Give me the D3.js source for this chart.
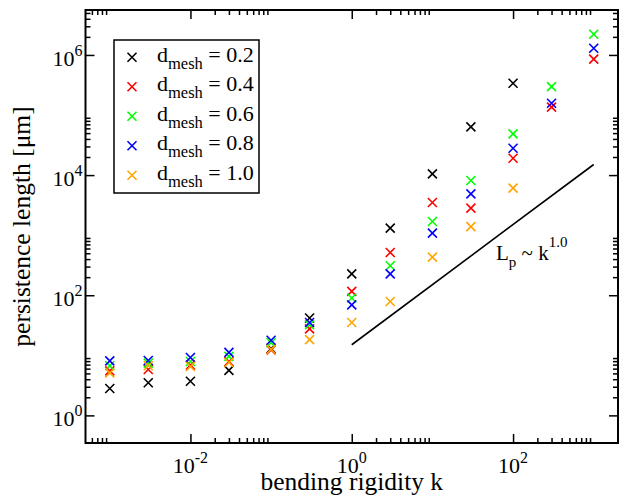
<!DOCTYPE html>
<html>
<head>
<meta charset="utf-8">
<script src="https://cdn.jsdelivr.net/npm/d3@7"></script>
<style>
  body { margin: 0; background: #fff; }
  svg { display: block; font-family: "Liberation Serif", "DejaVu Serif", serif; }
</style>
</head>
<body>
<div id="chart"></div>
<script>
// bending rigidity values (x)
var kValues = [1e-3, 3e-3, 1e-2, 3e-2, 1e-1, 3e-1, 1, 3, 10, 30, 100, 300, 1000];

// persistence length for each mesh size (null = no point)
var lpMesh02 = [2.8, 3.5, 3.7, 5.6, 13, 41.7, 227, 1310, 10500, 63400, 338000, null, null];
var lpMesh04 = [5.5, 5.8, 6.9, 7.9, 12.3, 27.6, 116, 514, 3490, 2820, 19100, 135000, 850000];
var lpMesh06 = [6.7, 7.4, 7.9, 9.6, 16.2, 32.2, 90, 309, 1690, 8110, 48500, 297000, 2210000];
var lpMesh08 = [8.1, 8.2, 9.2, 11.2, 17.8, 35.2, 69, 227, 1080, 4870, 28000, 157000, 1290000];
var lpMesh10 = [5.1, 6.7, 6.5, 7.6, 12.6, 18.2, 35.2, 78.7, 431, 1390, 6060, null, null];

var meshLabels = ["0.2", "0.4", "0.6", "0.8", "1.0"];
var meshColors = ["#000000", "#ff0000", "#00ff00", "#0000ff", "#ffa500"];

// guide line Lp ~ k^1.0
var guideK = [1, 1000];
var guideLp = [15, 15000];

var xMajor = [1e-2, 1e0, 1e2];
var yMajor = [1e0, 1e2, 1e4, 1e6];
var xLabels = ["-2", "0", "2"];
var yLabels = ["0", "2", "4", "6"];

var margin = {top: 10, right: 1, bottom: 52, left: 85.5},
    width = 619 - margin.left - margin.right,
    height = 495 - margin.top - margin.bottom;

var x = d3.scaleLog().domain([5e-4, 2e3]).range([0, width]);
var y = d3.scaleLog().domain([0.347, 5.6e6]).range([height, 0]);

// minor ticks: 2..9 x 10^even decades
function minors(lo, hi) {
  var out = [];
  for (var e = lo; e <= hi; e += 2)
    for (var m = 2; m <= 9; m++) out.push(m * Math.pow(10, e));
  return out;
}
var xMinor = minors(-4, 2).filter(function(v) { return v > 5e-4 && v < 2e3; });
var yMinor = minors(-2, 6).filter(function(v) { return v > 0.347 && v < 5.6e6; });

var svg = d3.select("#chart").append("svg")
    .attr("width", 619)
    .attr("height", 495);

var g = svg.append("g")
    .attr("transform", "translate(" + margin.left + "," + margin.top + ")");

// ticks (inward, mirrored on all sides)
function addAxis(axisFn, scale, vals, size, tr) {
  var a = g.append("g")
      .attr("transform", tr)
      .call(axisFn(scale).tickValues(vals).tickSize(size).tickFormat(""));
  a.select(".domain").remove();
  a.selectAll("line").attr("stroke", "#000").attr("stroke-width", 1.5);
}
addAxis(d3.axisBottom, x, xMajor, -9, "translate(0," + height + ")");
addAxis(d3.axisBottom, x, xMinor, -5, "translate(0," + height + ")");
addAxis(d3.axisTop, x, xMajor, -9, "translate(0,0)");
addAxis(d3.axisTop, x, xMinor, -5, "translate(0,0)");
addAxis(d3.axisLeft, y, yMajor, -9, "translate(0,0)");
addAxis(d3.axisLeft, y, yMinor, -5, "translate(0,0)");
addAxis(d3.axisRight, y, yMajor, -9, "translate(" + width + ",0)");
addAxis(d3.axisRight, y, yMinor, -5, "translate(" + width + ",0)");

// frame
g.append("rect")
    .attr("width", width)
    .attr("height", height)
    .attr("fill", "none")
    .attr("stroke", "#000")
    .attr("stroke-width", 2);

// tick labels
xMajor.forEach(function(v, i) {
  var t = g.append("text")
      .attr("x", x(v))
      .attr("y", height + 30)
      .attr("text-anchor", "middle")
      .attr("font-size", 22);
  t.append("tspan").text("10");
  t.append("tspan").attr("dy", -10).attr("font-size", 16).text(xLabels[i]);
});
yMajor.forEach(function(v, i) {
  var t = g.append("text")
      .attr("x", -3)
      .attr("y", y(v) + 11)
      .attr("text-anchor", "end")
      .attr("font-size", 22);
  t.append("tspan").text("10");
  t.append("tspan").attr("dy", -10).attr("font-size", 16).text(yLabels[i]);
});

// axis titles
svg.append("text")
    .attr("x", margin.left + width / 2)
    .attr("y", 490)
    .attr("text-anchor", "middle")
    .attr("font-size", 25.5)
    .text("bending rigidity k");

svg.append("text")
    .attr("transform", "translate(30," + (margin.top + height / 2) + ") rotate(-90)")
    .attr("text-anchor", "middle")
    .attr("font-size", 25.5)
    .text("persistence length [\u03bcm]");

// guide line
g.append("path")
    .datum(guideK.map(function(k, i) { return [k, guideLp[i]]; }))
    .attr("fill", "none")
    .attr("stroke", "#000")
    .attr("stroke-width", 1.6)
    .attr("d", d3.line().x(function(d) { return x(d[0]); }).y(function(d) { return y(d[1]); }));

var lbl = g.append("text")
    .attr("x", 496 - margin.left)
    .attr("y", 260 - margin.top)
    .attr("font-size", 21);
lbl.append("tspan").text("L");
lbl.append("tspan").attr("dy", 7).attr("font-size", 15).text("p");
lbl.append("tspan").attr("dy", -7).text(" ~ k");
lbl.append("tspan").attr("dy", -13).attr("font-size", 15).text("1.0");

// markers
var cross = "M-4.5,-4.5L4.5,4.5M-4.5,4.5L4.5,-4.5";
var allSeries = [lpMesh02, lpMesh04, lpMesh06, lpMesh08, lpMesh10];

allSeries.forEach(function(series, si) {
  var pts = kValues.map(function(k, i) { return [k, series[i]]; })
      .filter(function(d) { return d[1] != null; });
  g.append("g").selectAll("path")
      .data(pts)
      .enter().append("path")
      .attr("transform", function(d) { return "translate(" + x(d[0]) + "," + y(d[1]) + ")"; })
      .attr("d", cross)
      .attr("stroke", meshColors[si])
      .attr("stroke-width", 1.6)
      .attr("fill", "none");
});

// legend
var legend = svg.append("g");
legend.append("rect")
    .attr("x", 114).attr("y", 40)
    .attr("width", 145).attr("height", 153)
    .attr("fill", "#fff")
    .attr("stroke", "#000")
    .attr("stroke-width", 1.5);

meshLabels.forEach(function(lab, i) {
  var ry = 57.3 + i * 29.5;
  legend.append("path")
      .attr("transform", "translate(132," + ry + ")")
      .attr("d", cross)
      .attr("stroke", meshColors[i])
      .attr("stroke-width", 1.6)
      .attr("fill", "none");
  var t = legend.append("text")
      .attr("x", 157)
      .attr("y", ry + 4.5)
      .attr("font-size", 22);
  t.append("tspan").text("d");
  t.append("tspan").attr("dy", 7).attr("font-size", 16.5).text("mesh");
  t.append("tspan").attr("dy", -7).text(" = " + lab);
});
</script>
</body>
</html>
